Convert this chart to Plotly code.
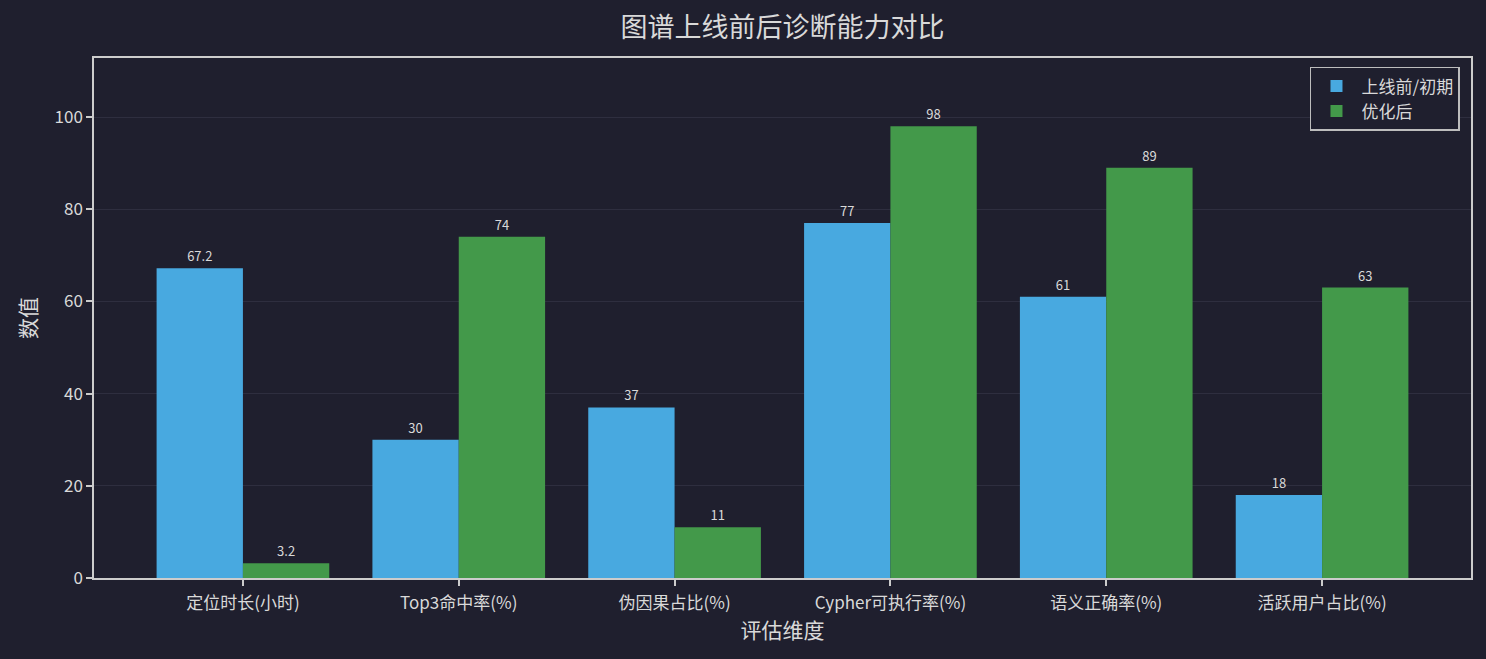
import plotly.graph_objects as go

# 评估维度与两组数值
categories = ['定位时长(小时)', 'Top3命中率(%)', '伪因果占比(%)', 'Cypher可执行率(%)', '语义正确率(%)', '活跃用户占比(%)']
before_vals = [67.2, 30, 37, 77, 61, 18]
after_vals = [3.2, 74, 11, 98, 89, 63]
before_text = ['67.2', '30', '37', '77', '61', '18']
after_text = ['3.2', '74', '11', '98', '89', '63']

BG = '#1f1f2e'
FG = '#d9d9d9'
FONT = 'Noto Sans CJK SC'

fig = go.Figure()
fig.add_trace(go.Bar(x=categories, y=before_vals, name='上线前/初期',
                     marker_color='#48a9e0', marker_line_width=0,
                     text=before_text, textposition='outside',
                     textfont=dict(size=13, color=FG, family=FONT),
                     cliponaxis=False))
fig.add_trace(go.Bar(x=categories, y=after_vals, name='优化后',
                     marker_color='#43994a', marker_line_width=0,
                     text=after_text, textposition='outside',
                     textfont=dict(size=13, color=FG, family=FONT),
                     cliponaxis=False))

fig.update_layout(
    width=1486, height=659,
    paper_bgcolor=BG, plot_bgcolor=BG,
    font=dict(family=FONT, color=FG, size=15),
    title=dict(text='图谱上线前后诊断能力对比', xref='paper', x=0.5, xanchor='center',
               yref='container', y=1 - 28 / 659, yanchor='middle',
               font=dict(size=27, color=FG, family=FONT)),
    barmode='group', bargap=0.2, bargroupgap=0,
    margin=dict(l=94, r=15, t=58, b=81),
    showlegend=True,
    legend=dict(x=0.992, y=0.983, xanchor='right', yanchor='top',
                bgcolor=BG, bordercolor='#bdbdbd', borderwidth=1.5,
                font=dict(size=17, color=FG, family=FONT),
                itemwidth=40),
)

fig.update_xaxes(
    title=dict(text='评估维度', font=dict(size=21, color=FG), standoff=6),
    range=[-0.69, 5.69],
    showline=True, linecolor='#cccccc', linewidth=1.5, mirror=True,
    ticks='outside', tickcolor='#cccccc', ticklen=6, tickwidth=1.5,
    tickfont=dict(size=17, color=FG), ticklabelstandoff=3,
    showgrid=False, layer='above traces',
)
fig.update_yaxes(
    title=dict(text='数值', font=dict(size=21, color=FG), standoff=12),
    range=[0, 112.8],
    tickvals=[0, 20, 40, 60, 80, 100],
    showline=True, linecolor='#cccccc', linewidth=1.5, mirror=True,
    ticks='outside', tickcolor='#cccccc', ticklen=6, tickwidth=1.5,
    tickfont=dict(size=17, color=FG),
    showgrid=True, gridcolor='rgba(55,55,72,0.65)', gridwidth=1,
    zeroline=False, layer='above traces',
)

fig.write_html('out.html', config={'displayModeBar': False},
               post_script="document.body.style.margin='0';document.body.style.background='%s';" % BG)
